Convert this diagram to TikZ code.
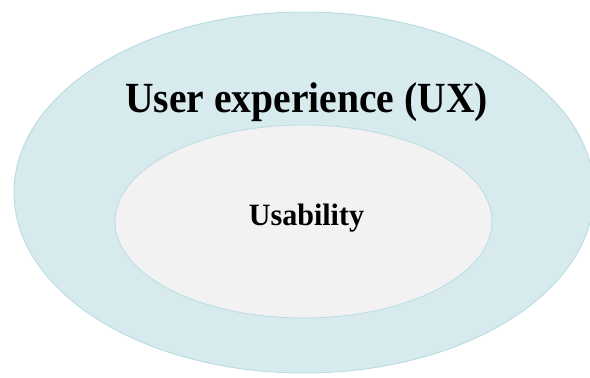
\documentclass[tikz,border=0pt]{standalone}
\usepackage{fontspec}
\setmainfont{Liberation Serif}
\definecolor{uxfill}{HTML}{D7EBEF}
\definecolor{uxline}{HTML}{B9DCE2}
\definecolor{usefill}{HTML}{F2F2F2}
\definecolor{useline}{HTML}{BFDDE2}
\tikzset{
  ring/.style={line width=0.9pt},
  title/.style={anchor=base, inner sep=0pt, font=\bfseries, text=black}
}
\begin{document}
\begin{tikzpicture}[x=1pt,y=-1pt]
  \useasboundingbox (0,0) rectangle (590,378);
  \clip (0,0) rectangle (590,378);
  \fill[white] (0,0) rectangle (590,378);
  % outer ring: user experience
  \draw[ring, fill=uxfill, draw=uxline] (304,192.5) ellipse [x radius=290, y radius=180.5];
  % inner ring: usability
  \draw[ring, fill=usefill, draw=useline] (303.5,221.5) ellipse [x radius=188.5, y radius=96.5];
  \node[title, font=\fontsize{43}{50}\selectfont\bfseries, xscale=0.92, transform shape] (ux) at (306.5,112) {User experience (UX)};
  \node[title, font=\fontsize{31}{36}\selectfont\bfseries, xscale=0.97, transform shape] (usab) at (306.5,225) {Usability};
\end{tikzpicture}
\end{document}
